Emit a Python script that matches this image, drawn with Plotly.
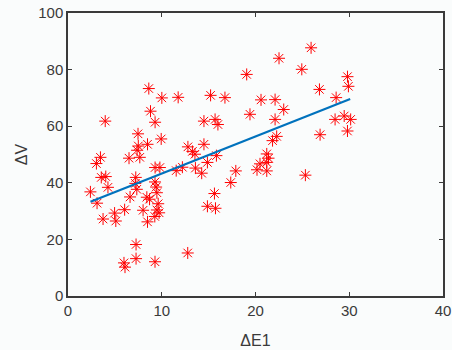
import plotly.graph_objects as go

# Scatter data (ΔE1, ΔV)
dE1 = [25.93, 22.51, 19.06, 24.94, 29.81, 29.91, 26.82, 8.62, 10.01, 11.75,
       15.21, 16.74, 20.59, 22.09, 28.60, 8.80, 3.97, 9.29, 14.50, 15.69,
       15.99, 19.41, 23.01, 22.09, 28.49, 29.46, 30.15, 29.81, 26.89, 22.26,
       21.82, 9.94, 7.47, 8.48, 7.50, 7.37, 7.66, 12.79, 13.27, 13.54,
       14.50, 15.83, 3.46, 6.51, 21.20, 21.39, 3.03, 3.55, 4.03, 2.39,
       4.26, 3.10, 7.23, 7.18, 7.34, 6.62, 9.29, 9.80, 9.28, 9.40,
       9.48, 8.41, 8.70, 9.62, 9.48, 9.72, 9.26, 8.01, 6.04, 4.97,
       3.74, 5.10, 8.48, 11.54, 12.20, 13.59, 14.26, 14.87, 15.62, 14.87,
       15.73, 17.36, 17.90, 25.32, 7.26, 7.26, 5.97, 6.08, 9.28, 12.77,
       20.48, 21.20, 20.16, 21.20]
dV = [87.7, 84.0, 78.3, 80.1, 77.5, 74.1, 73.0, 73.3, 70.0, 70.2,
      70.9, 70.1, 69.3, 69.4, 70.1, 65.3, 61.8, 61.4, 61.8, 62.4,
      60.6, 64.2, 65.9, 62.4, 62.4, 63.6, 62.4, 58.3, 57.0, 56.4,
      54.9, 55.5, 57.3, 53.6, 53.0, 51.5, 49.0, 52.7, 51.1, 50.1,
      53.6, 49.6, 49.0, 48.7, 50.2, 48.7, 46.8, 41.9, 42.2, 36.8,
      38.4, 32.8, 41.9, 39.8, 37.7, 35.0, 45.4, 45.4, 40.3, 38.5,
      36.5, 34.9, 34.2, 32.6, 30.4, 29.4, 28.1, 30.3, 30.5, 29.3,
      27.2, 26.5, 26.2, 44.3, 45.5, 45.2, 43.4, 47.2, 36.2, 31.7,
      31.0, 40.1, 44.2, 42.7, 18.2, 13.2, 11.7, 10.2, 12.1, 15.2,
      46.7, 47.2, 44.6, 44.2]

# Regression line endpoints
fit_x = [2.4, 30.1]
fit_y = [33.3, 69.6]

x_ticks = [0, 10, 20, 30, 40]
y_ticks = [0, 20, 40, 60, 80, 100]

bg = "#fafcfc"
axc = "#3a3a3a"

fig = go.Figure()
fig.add_trace(go.Scatter(
    x=dE1, y=dV, mode="markers",
    marker=dict(symbol="asterisk-open", size=10, color="#ff0000",
                line=dict(color="#ff0000", width=1)),
    showlegend=False, cliponaxis=False))
fig.add_trace(go.Scatter(
    x=fit_x, y=fit_y, mode="lines",
    line=dict(color="#0072BD", width=2.2), showlegend=False))

font = dict(family="Liberation Sans, Arial, sans-serif", size=15, color=axc)
fig.update_layout(
    width=452, height=350,
    margin=dict(l=68, r=9, t=13, b=54),
    paper_bgcolor=bg, plot_bgcolor=bg,
    font=font,
)
fig.update_xaxes(
    range=[0, 40], tickvals=x_ticks, ticktext=[str(v) for v in x_ticks],
    showgrid=False, zeroline=False, showline=True, linecolor=axc, linewidth=1.5,
    mirror="ticks", ticks="inside", ticklen=4, tickcolor=axc, automargin=False,
    title=dict(text="ΔE1", standoff=17, font=dict(size=16, color=axc)),
)
fig.update_yaxes(
    range=[0, 100], tickvals=y_ticks, ticktext=[str(v) for v in y_ticks],
    showgrid=False, zeroline=False, showline=True, linecolor=axc, linewidth=1.5,
    mirror="ticks", ticks="inside", ticklen=4, tickcolor=axc, automargin=False,
    title=dict(text="ΔV", standoff=7, font=dict(size=16, color=axc)),
)

fig.write_html(
    "out.html",
    config={"displayModeBar": False},
    post_script="document.body.style.margin='0';document.body.style.background='%s';" % bg,
)
